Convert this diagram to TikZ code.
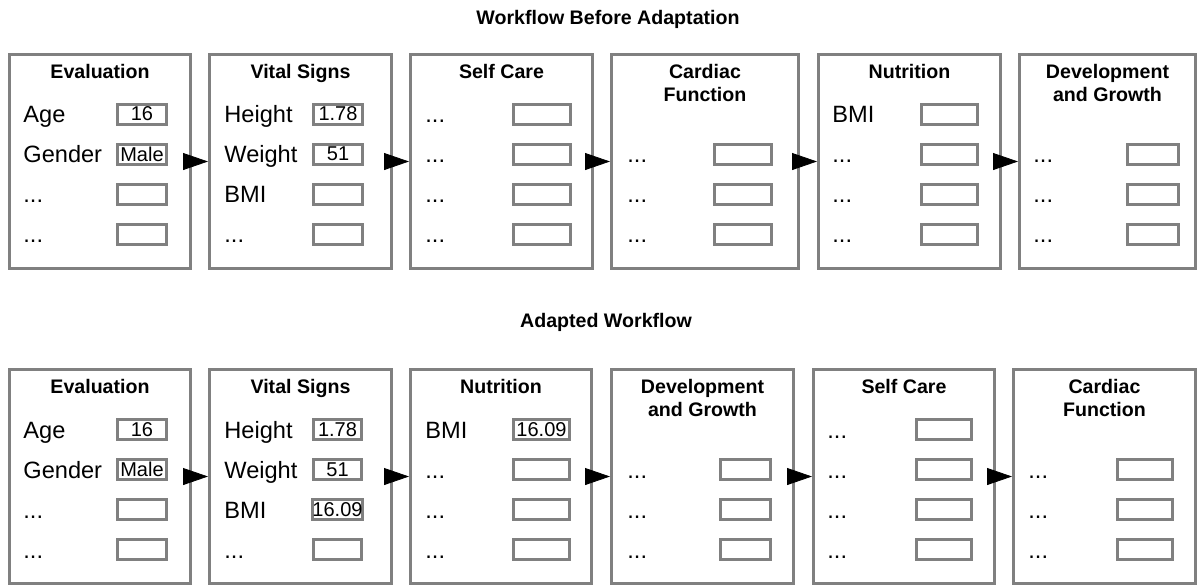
\documentclass[tikz,border=0pt]{standalone}
\usepackage{fontspec}
\setmainfont{Liberation Sans}
\usetikzlibrary{arrows.meta,positioning}
\definecolor{boxgray}{RGB}{128,128,128}

\begin{document}
\begin{tikzpicture}[x=0.5pt, y=-0.5pt, >={Triangle[length=12.5pt,width=8.5pt]},
    stage/.style={draw=boxgray, line width=1.5pt, minimum height=107pt, inner sep=0pt},
    field/.style={draw=boxgray, line width=1.5pt, minimum height=10pt, inner sep=0pt, font=\fontsize{10}{10}\selectfont},
    lbl/.style={anchor=base west, inner sep=0pt, font=\fontsize{11.8}{12}\selectfont},
    head/.style={inner sep=0pt, align=center, font=\bfseries\fontsize{9.8}{11.5}\selectfont},
    title/.style={anchor=base, inner sep=0pt, font=\bfseries\fontsize{9.8}{11.5}\selectfont}]
    \useasboundingbox (0,0) rectangle (1200,586);

    % workflow before adaptation
    \node[title] (before) at (608,24) {Workflow Before Adaptation};
    \node[stage, minimum width=90.5pt] (tE) at (100,161.5) {};
    \node[stage, minimum width=91pt] (tV) at (300.5,161.5) {};
    \node[stage, minimum width=91pt] (tS) at (501.5,161.5) {};
    \node[stage, minimum width=93.5pt] (tC) at (705,161.5) {};
    \node[stage, minimum width=91pt] (tN) at (909.5,161.5) {};
    \node[stage, minimum width=88pt] (tD) at (1107.5,161.5) {};
    \node[head, below=5.5pt of tE.north] (tEh) {Evaluation};
    \node[head, below=5.5pt of tV.north] (tVh) {Vital Signs};
    \node[head, below=5.5pt of tS.north] (tSh) {Self Care};
    \node[head, below=5.5pt of tC.north] (tCh) {Cardiac\\Function};
    \node[head, below=5.5pt of tN.north] (tNh) {Nutrition};
    \node[head, below=5.5pt of tD.north] (tDh) {Development\\and Growth};

    \node[lbl] (tEa1) at (23,122.5) {Age};
    \node[field, minimum width=24.5pt] (tEv1) at (142,114) {16};
    \node[lbl] (tEa2) at (23,162.5) {Gender};
    \node[field, minimum width=24.5pt] (tEv2) at (142,154) {Male};
    \node[lbl] (tVa1) at (224,122.5) {Height};
    \node[field, minimum width=24.5pt] (tVv1) at (338,114) {1.78};
    \node[lbl] (tVa2) at (224,162.5) {Weight};
    \node[field, minimum width=24.5pt] (tVv2) at (338,154) {51};
    \node[lbl] (tVa3) at (224,202.5) {BMI};
    \node[field, minimum width=24.5pt] (tVv3) at (338,194) {};
    \node[lbl] (tNa1) at (832,122.5) {BMI};
    \node[field, minimum width=28pt] (tNv1) at (949.5,114) {};
    \foreach \r in {3,4} {
        \node[lbl] (tEa\r) at (23,{82.5+40*\r}) {...};
        \node[field, minimum width=24.5pt] (tEv\r) at (142,{74+40*\r}) {};
    }
    \node[lbl] (tVa4) at (224,242.5) {...};
    \node[field, minimum width=24.5pt] (tVv4) at (338,234) {};
    \foreach \r in {1,...,4} {
        \node[lbl] (tSa\r) at (425,{82.5+40*\r}) {...};
        \node[field, minimum width=28.5pt] (tSv\r) at (542,{74+40*\r}) {};
    }
    \foreach \r in {2,3,4} {
        \node[lbl] (tCa\r) at (627,{82.5+40*\r}) {...};
        \node[field, minimum width=28.5pt] (tCv\r) at (743,{74+40*\r}) {};
        \node[lbl] (tNa\r) at (832,{82.5+40*\r}) {...};
        \node[field, minimum width=28pt] (tNv\r) at (949.5,{74+40*\r}) {};
        \node[lbl] (tDa\r) at (1033,{82.5+40*\r}) {...};
        \node[field, minimum width=25.5pt] (tDv\r) at (1153,{74+40*\r}) {};
    }
    \draw[->] (tE) -- (tV);
    \draw[->] (tV) -- (tS);
    \draw[->] (tS) -- (tC);
    \draw[->] (tC) -- (tN);
    \draw[->] (tN) -- (tD);

    % adapted workflow
    \node[title] (after) at (606,327) {Adapted Workflow};
    \node[stage, minimum width=90.5pt] (bE) at (100,476.5) {};
    \node[stage, minimum width=91pt] (bV) at (300.5,476.5) {};
    \node[stage, minimum width=90.5pt] (bN) at (501,476.5) {};
    \node[stage, minimum width=91pt] (bD) at (702.5,476.5) {};
    \node[stage, minimum width=90.5pt] (bS) at (904,476.5) {};
    \node[stage, minimum width=91pt] (bC) at (1104.5,476.5) {};
    \node[head, below=5.5pt of bE.north] (bEh) {Evaluation};
    \node[head, below=5.5pt of bV.north] (bVh) {Vital Signs};
    \node[head, below=5.5pt of bN.north] (bNh) {Nutrition};
    \node[head, below=5.5pt of bD.north] (bDh) {Development\\and Growth};
    \node[head, below=5.5pt of bS.north] (bSh) {Self Care};
    \node[head, below=5.5pt of bC.north] (bCh) {Cardiac\\Function};

    \node[lbl] (bEa1) at (23,438) {Age};
    \node[field, minimum width=24.5pt] (bEv1) at (142,429.5) {16};
    \node[lbl] (bEa2) at (23,478) {Gender};
    \node[field, minimum width=24.5pt] (bEv2) at (142,469.5) {Male};
    \node[lbl] (bVa1) at (224,438) {Height};
    \node[field, minimum width=24pt] (bVv1) at (337.5,429.5) {1.78};
    \node[lbl] (bVa2) at (224,478) {Weight};
    \node[field, minimum width=24pt] (bVv2) at (337.5,469.5) {51};
    \node[lbl] (bVa3) at (224,518) {BMI};
    \node[field, minimum width=24pt] (bVv3) at (337.5,509.5) {16.09};
    \node[lbl] (bNa1) at (425,438) {BMI};
    \node[field, minimum width=28pt] (bNv1) at (541.5,429.5) {16.09};
    \foreach \r in {3,4} {
        \node[lbl] (bEa\r) at (23,{398+40*\r}) {...};
        \node[field, minimum width=24.5pt] (bEv\r) at (142,{389.5+40*\r}) {};
    }
    \node[lbl] (bVa4) at (224,558) {...};
    \node[field, minimum width=24pt] (bVv4) at (337.5,549.5) {};
    \foreach \r in {1,...,4} {
        \node[lbl] (bSa\r) at (827,{398+40*\r}) {...};
        \node[field, minimum width=27.5pt] (bSv\r) at (944,{389.5+40*\r}) {};
    }
    \foreach \r in {2,3,4} {
        \node[lbl] (bNa\r) at (425,{398+40*\r}) {...};
        \node[field, minimum width=28pt] (bNv\r) at (541.5,{389.5+40*\r}) {};
        \node[lbl] (bDa\r) at (627,{398+40*\r}) {...};
        \node[field, minimum width=25pt] (bDv\r) at (745.5,{389.5+40*\r}) {};
        \node[lbl] (bCa\r) at (1028,{398+40*\r}) {...};
        \node[field, minimum width=27.5pt] (bCv\r) at (1145,{389.5+40*\r}) {};
    }
    \draw[->] (bE) -- (bV);
    \draw[->] (bV) -- (bN);
    \draw[->] (bN) -- (bD);
    \draw[->] (bD) -- (bS);
    \draw[->] (bS) -- (bC);
\end{tikzpicture}
\end{document}
